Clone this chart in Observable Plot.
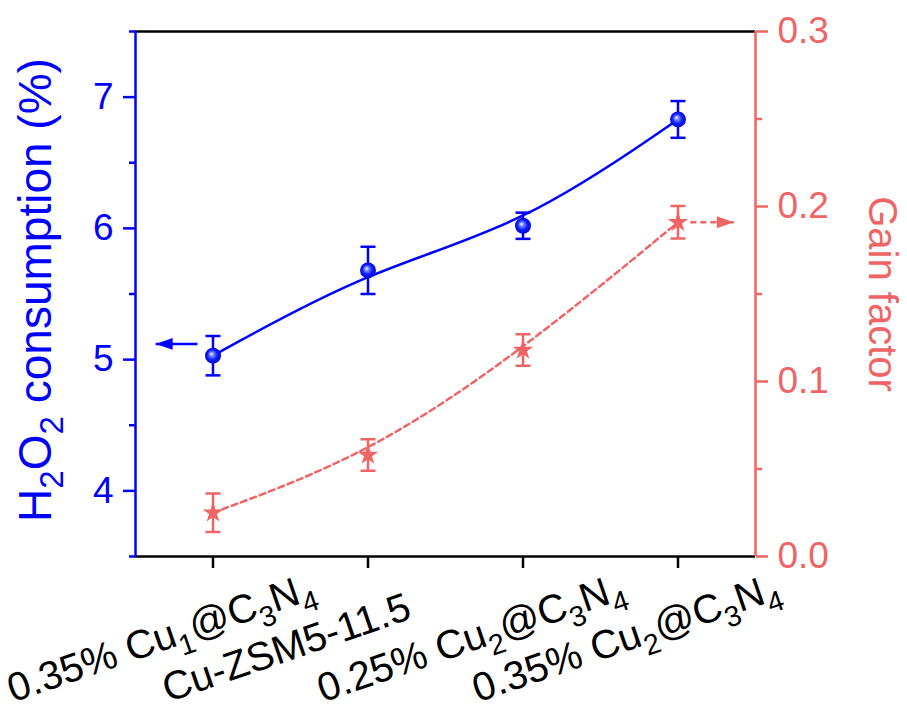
<!DOCTYPE html>
<html>
<head>
<meta charset="utf-8">
<script src="https://cdn.jsdelivr.net/npm/d3@7"></script>
<script src="https://cdn.jsdelivr.net/npm/@observablehq/plot@0.6"></script>
<style>
  body { margin: 0; background: #fff; }
  svg { display: block; }
</style>
</head>
<body>
<div id="chart"></div>
<script>
// Samples (an underscore marks the following digit as a subscript)
const samples = ["0.35% Cu_1@C_3N_4", "Cu-ZSM5-11.5", "0.25% Cu_2@C_3N_4", "0.35% Cu_2@C_3N_4"];
// H2O2 consumption (%), left axis
const consumption = [5.03, 5.68, 6.02, 6.83];
const consumptionErr = [0.15, 0.18, 0.10, 0.14];
// Gain factor, right axis
const gain = [0.025, 0.058, 0.118, 0.191];
const gainErr = [0.011, 0.009, 0.009, 0.0093];
// Axis ticks
const leftTicks = [4, 5, 6, 7];
const leftMinor = [3.5, 4.5, 5.5, 6.5, 7.5];
const rightTicks = [0, 0.1, 0.2, 0.3];
const rightMinor = [0.05, 0.15, 0.25];
// Axis-pointing arrows (x in sample index units)
const leftArrow = [{x1: -0.10, x2: -0.37, y: 5.12}];
const rightArrow = [{x1: 3.08, x2: 3.36, y: 0.191}];

const BLUE = "#0000ff";
const SPHERE_KEY = "#0000fe"; // placeholder fill swapped for the sphere gradient
const RED = "#ef6464";
const FONT = "'Liberation Sans', Arial, Helvetica, sans-serif";

const leftDomain = [3.5, 7.5];
const rightDomain = [0, 0.3];
const toLeft = g => leftDomain[0] + (g - rightDomain[0]) * (leftDomain[1] - leftDomain[0]) / (rightDomain[1] - rightDomain[0]);
const fromLeft = v => rightDomain[0] + (v - leftDomain[0]) * (rightDomain[1] - rightDomain[0]) / (leftDomain[1] - leftDomain[0]);

const idx = samples.map((_, i) => i);
const blueRows = idx.map(i => ({i, v: consumption[i], lo: consumption[i] - consumptionErr[i], hi: consumption[i] + consumptionErr[i]}));
const redRows = idx.map(i => ({i, v: toLeft(gain[i]), lo: toLeft(gain[i] - gainErr[i]), hi: toLeft(gain[i] + gainErr[i])}));

// Custom symbols: error-bar cap and filled arrowheads (tip at the origin)
const cap = {draw(ctx, size) { const w = Math.sqrt(size / Math.PI); ctx.moveTo(-w, 0); ctx.lineTo(w, 0); }};
const headLeft = {draw(ctx, size) { const r = Math.sqrt(size / Math.PI); ctx.moveTo(0, 0); ctx.lineTo(2 * r, -0.7 * r); ctx.lineTo(2 * r, 0.7 * r); ctx.closePath(); }};
const headRight = {draw(ctx, size) { const r = Math.sqrt(size / Math.PI); ctx.moveTo(0, 0); ctx.lineTo(-2 * r, -0.7 * r); ctx.lineTo(-2 * r, 0.7 * r); ctx.closePath(); }};

const SW = 2.5;

const chart = Plot.plot({
  width: 907,
  height: 713,
  marginLeft: 135,
  marginRight: 152,
  marginTop: 31,
  marginBottom: 157,
  style: {fontFamily: FONT, background: "#fff", overflow: "visible"},
  x: {type: "linear", domain: [-0.5, 3.5], label: null},
  y: {type: "linear", domain: leftDomain, label: null},
  marks: [
    // frame: black top and bottom
    Plot.ruleY([leftDomain[0], leftDomain[1]], {stroke: "black", strokeWidth: SW}),
    // bottom category ticks
    Plot.axisX(idx, {anchor: "bottom", tickSize: 12, stroke: "black", strokeWidth: SW, tickFormat: () => "", label: null}),
    // left axis (blue)
    Plot.ruleX([-0.5], {stroke: BLUE, strokeWidth: SW}),
    Plot.axisY(leftTicks, {anchor: "left", tickSize: 12, tickPadding: 10, stroke: BLUE, fill: BLUE, strokeWidth: SW, fontSize: 37, tickFormat: d => String(d), label: null}),
    Plot.axisY(leftMinor, {anchor: "left", tickSize: 6, stroke: BLUE, strokeWidth: SW, tickFormat: () => "", label: null}),
    // right axis (red)
    Plot.ruleX([3.5], {stroke: RED, strokeWidth: SW}),
    Plot.axisY(rightTicks.map(toLeft), {anchor: "right", tickSize: 12, tickPadding: 10, stroke: RED, fill: RED, strokeWidth: SW, fontSize: 37, tickFormat: d => fromLeft(d).toFixed(1), label: null}),
    Plot.axisY(rightMinor.map(toLeft), {anchor: "right", tickSize: 6, stroke: RED, strokeWidth: SW, tickFormat: () => "", label: null}),

    // series curves (B-spline smoothing)
    Plot.line(blueRows, {x: "i", y: "v", curve: "basis", stroke: BLUE, strokeWidth: SW}),
    Plot.line(redRows, {x: "i", y: "v", curve: "basis", stroke: RED, strokeWidth: SW, strokeDasharray: "6,4"}),

    // error bars
    Plot.ruleX(blueRows, {x: "i", y1: "lo", y2: "hi", stroke: BLUE, strokeWidth: SW}),
    Plot.dot(blueRows, {x: "i", y: "lo", symbol: cap, r: 7.5, stroke: BLUE, strokeWidth: SW, fill: "none"}),
    Plot.dot(blueRows, {x: "i", y: "hi", symbol: cap, r: 7.5, stroke: BLUE, strokeWidth: SW, fill: "none"}),
    Plot.ruleX(redRows, {x: "i", y1: "lo", y2: "hi", stroke: RED, strokeWidth: SW}),
    Plot.dot(redRows, {x: "i", y: "lo", symbol: cap, r: 7.5, stroke: RED, strokeWidth: SW, fill: "none"}),
    Plot.dot(redRows, {x: "i", y: "hi", symbol: cap, r: 7.5, stroke: RED, strokeWidth: SW, fill: "none"}),

    // markers
    Plot.dot(blueRows, {x: "i", y: "v", r: 8, fill: SPHERE_KEY, stroke: "none"}),
    Plot.dot(redRows, {x: "i", y: "v", symbol: "star", r: 6.5, fill: RED, stroke: "none"}),

    // arrows pointing to each series' axis
    Plot.link(leftArrow, {x1: "x1", x2: "x2", y1: "y", y2: "y", stroke: BLUE, strokeWidth: SW}),
    Plot.dot(leftArrow, {x: "x2", y: "y", symbol: headLeft, r: 8.5, fill: BLUE, stroke: "none"}),
    Plot.link(rightArrow, {x1: "x1", x2: "x2", y1: d => toLeft(d.y), y2: d => toLeft(d.y), stroke: RED, strokeWidth: SW, strokeDasharray: "6,4"}),
    Plot.dot(rightArrow, {x: "x2", y: d => toLeft(d.y), symbol: headRight, r: 8.5, fill: RED, stroke: "none"}),

    // category labels
    Plot.text(idx, {x: d => d, text: d => samples[d], frameAnchor: "bottom", dx: -200, dy: 146,
      textAnchor: "start", lineAnchor: "bottom", rotate: -19, fontSize: 40, fill: "black"}),

    // axis titles
    Plot.text(["H_2O_2 consumption (%)"], {frameAnchor: "left", dx: -85, dy: -4, rotate: -90, textAnchor: "middle", lineAnchor: "bottom", fontSize: 46, fill: BLUE}),
    Plot.text(["Gain factor"], {frameAnchor: "right", dx: 113, rotate: 90, textAnchor: "middle", lineAnchor: "bottom", fontSize: 40, fill: RED})
  ]
});

// glossy sphere fill for the consumption markers
const ns = "http://www.w3.org/2000/svg";
const defs = document.createElementNS(ns, "defs");
defs.innerHTML = `<radialGradient id="sphere" cx="0.5" cy="0.5" r="0.55" fx="0.4" fy="0.38">
  <stop offset="0" stop-color="#f2f5ff"/>
  <stop offset="0.22" stop-color="#8090ff"/>
  <stop offset="0.55" stop-color="#1020ff"/>
  <stop offset="1" stop-color="#0000d0"/>
</radialGradient>`;
chart.insertBefore(defs, chart.firstChild);
chart.querySelectorAll(`[fill="${SPHERE_KEY}"]`).forEach(el => el.setAttribute("fill", "url(#sphere)"));

document.getElementById("chart").appendChild(chart);

// turn "_d" into subscript tspans
chart.querySelectorAll("text").forEach(t => {
  const s = t.textContent;
  if (!s.includes("_")) return;
  const fs = parseFloat(getComputedStyle(t).fontSize) || 36;
  const parts = s.split(/_(\d)/);
  t.textContent = "";
  let shifted = false;
  parts.forEach((p, k) => {
    if (!p) return;
    const ts = document.createElementNS(ns, "tspan");
    ts.textContent = p;
    if (k % 2 === 1) {
      ts.setAttribute("font-size", (fs * 0.72).toFixed(1));
      ts.setAttribute("dy", (fs * 0.28).toFixed(1));
      shifted = true;
    } else if (shifted) {
      ts.setAttribute("dy", (-fs * 0.28).toFixed(1));
      shifted = false;
    }
    t.appendChild(ts);
  });
});
</script>
</body>
</html>
